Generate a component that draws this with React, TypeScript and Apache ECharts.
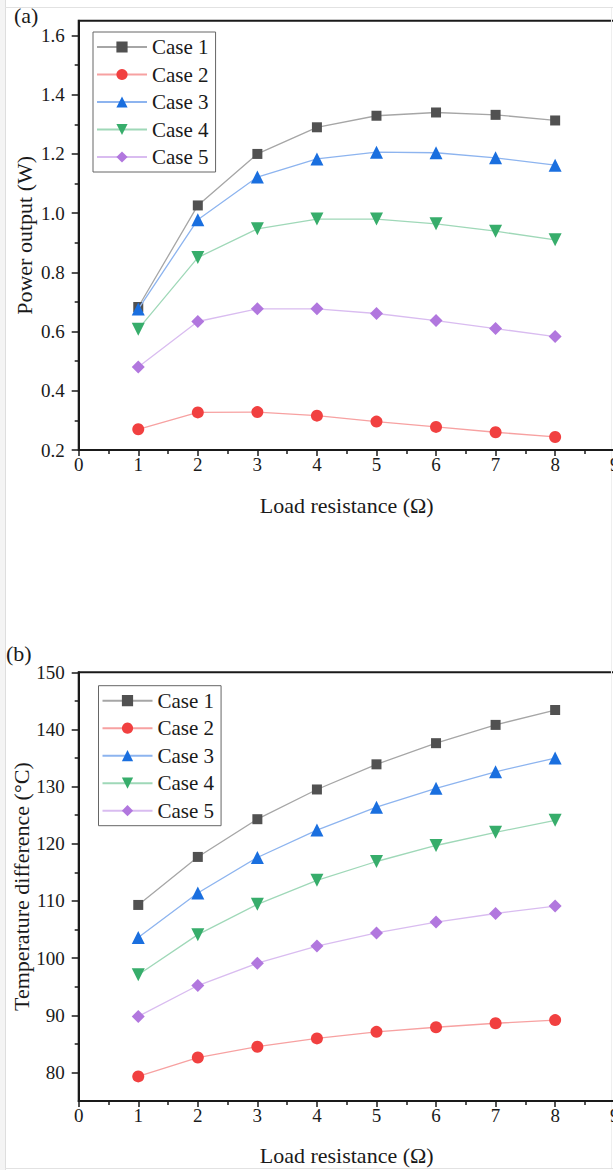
import React, { useEffect, useRef } from "react";
import * as echarts from "echarts";

// ---------- data ----------
const loadResistance = [1, 2, 3, 4, 5, 6, 7, 8];
const caseNames = ["Case 1", "Case 2", "Case 3", "Case 4", "Case 5"];

// (a) Power output (W)
const powerCase1 = [0.683, 1.026, 1.2, 1.29, 1.329, 1.34, 1.332, 1.313];
const powerCase2 = [0.27, 0.327, 0.328, 0.316, 0.296, 0.278, 0.26, 0.244];
const powerCase3 = [0.676, 0.978, 1.122, 1.183, 1.206, 1.204, 1.187, 1.162];
const powerCase4 = [0.608, 0.85, 0.947, 0.98, 0.98, 0.964, 0.939, 0.91];
const powerCase5 = [0.48, 0.634, 0.677, 0.677, 0.661, 0.637, 0.61, 0.583];

// (b) Temperature difference (°C)
const tempCase1 = [109.3, 117.7, 124.3, 129.5, 133.9, 137.6, 140.8, 143.4];
const tempCase2 = [79.3, 82.6, 84.5, 85.95, 87.1, 87.9, 88.6, 89.15];
const tempCase3 = [103.6, 111.4, 117.6, 122.4, 126.4, 129.7, 132.6, 135.0];
const tempCase4 = [97.1, 104.1, 109.4, 113.6, 116.9, 119.7, 122.0, 124.1];
const tempCase5 = [89.8, 95.2, 99.1, 102.1, 104.4, 106.3, 107.8, 109.1];

// ticks
const powerTicks = [0.2, 0.4, 0.6, 0.8, 1.0, 1.2, 1.4, 1.6];
const powerMinorTicks = [0.3, 0.5, 0.7, 0.9, 1.1, 1.3, 1.5];
const tempTicks = [80, 90, 100, 110, 120, 130, 140, 150];
const tempMinorTicks = [85, 95, 105, 115, 125, 135, 145];

// ---------- styles ----------
const FONT = "'Liberation Serif', 'Times New Roman', serif";
const INK = "#1a1a1a";
const markerColors = ["#515151", "#F14040", "#1A6FDF", "#37AD6B", "#B177DE"];
const lineColors = ["#a6a6a6", "#f7a1a1", "#8db4ef", "#9fd8b8", "#d9bcf0"];
const symbols = ["rect", "circle", "triangle", "triangle", "diamond"];
const rotates = [0, 0, 0, 180, 0];
const sizes = [10, 12, 13, 13, 13];

function makeSeries(sets: number[][], idx: number) {
  return sets.map((vals, i) => ({
    type: "line",
    name: caseNames[i],
    xAxisIndex: idx,
    yAxisIndex: idx * 2,
    data: loadResistance.map((x, k) => [x, vals[k]]),
    symbol: symbols[i],
    symbolSize: sizes[i],
    symbolRotate: rotates[i],
    itemStyle: { color: markerColors[i] },
    lineStyle: { color: lineColors[i], width: 1.3 },
    emphasis: { disabled: true },
    z: 3 + i,
  }));
}

function xAxis(gridIndex: number, nameGap: number) {
  return {
    type: "value",
    gridIndex,
    min: 0,
    max: 9,
    interval: 1,
    axisLine: { show: true, onZero: false, lineStyle: { color: INK, width: 2 } },
    axisTick: { show: true, inside: false, length: 6, lineStyle: { color: INK, width: 1.5 } },
    minorTick: { show: true, splitNumber: 2, length: 4, lineStyle: { color: INK, width: 1.5 } },
    axisLabel: { show: true, margin: 5, fontFamily: FONT, fontSize: 19, color: INK },
    splitLine: { show: false },
    minorSplitLine: { show: false },
    name: "Load resistance (Ω)",
    nameLocation: "middle",
    nameGap,
    nameMoveOverlap: false,
    nameTextStyle: { fontFamily: FONT, fontSize: 22, color: INK },
  };
}

function yAxes(
  gridIndex: number,
  min: number,
  max: number,
  ticks: number[],
  minor: number[],
  name: string,
  nameGap: number,
  fmt: (v: number) => string
) {
  return [
    {
      type: "value",
      gridIndex,
      position: "left",
      min,
      max,
      axisLine: { show: true, onZero: false, lineStyle: { color: INK, width: 2 } },
      axisTick: { show: true, inside: false, length: 7, customValues: ticks, lineStyle: { color: INK, width: 1.5 } },
      axisLabel: { show: true, customValues: ticks, formatter: fmt, margin: 14, fontFamily: FONT, fontSize: 19, color: INK },
      splitLine: { show: false },
      name,
      nameLocation: "middle",
      nameGap,
      nameMoveOverlap: false,
      nameTextStyle: { fontFamily: FONT, fontSize: 22, color: INK },
    },
    {
      type: "value",
      gridIndex,
      position: "left",
      offset: 0,
      min,
      max,
      axisLine: { show: false, onZero: false },
      axisTick: { show: true, inside: false, length: 4, customValues: minor, lineStyle: { color: INK, width: 1.5 } },
      axisLabel: { show: false },
      splitLine: { show: false },
    },
  ];
}

function legend(left: number, top: number) {
  return {
    orient: "vertical",
    left,
    top,
    itemWidth: 50,
    itemHeight: 14,
    itemGap: 6.5,
    padding: [4.5, 7, 4.5, 3],
    borderColor: "#666",
    borderWidth: 1,
    backgroundColor: "#fff",
    selectedMode: false,
    data: caseNames,
    textStyle: { fontFamily: FONT, fontSize: 21, color: INK },
  };
}

export default function App() {
  const ref = useRef<HTMLDivElement>(null);

  useEffect(() => {
    if (!ref.current) return;
    const chart = echarts.init(ref.current, null, { renderer: "svg" });

    const option: any = {
      animation: false,
      backgroundColor: "#ffffff",
      grid: [
        {
          left: 78.7,
          top: 20.7,
          width: 536,
          height: 429.3,
          show: true,
          borderColor: INK,
          borderWidth: 2,
          backgroundColor: "transparent",
          containLabel: false,
          outerBoundsMode: "none",
        },
        {
          left: 78.7,
          top: 672.3,
          width: 536,
          height: 428.7,
          show: true,
          borderColor: INK,
          borderWidth: 2,
          backgroundColor: "transparent",
          containLabel: false,
          outerBoundsMode: "none",
        },
      ],
      xAxis: [xAxis(0, 44), xAxis(1, 43)],
      yAxis: [
        ...yAxes(0, 0.2, 1.65, powerTicks, powerMinorTicks, "Power output (W)", 43, (v: number) => v.toFixed(1)),
        ...yAxes(1, 75, 150, tempTicks, tempMinorTicks, "Temperature difference (°C)", 46, (v: number) => String(v)),
      ],
      legend: [legend(93, 32), legend(98.5, 685.7)],
      series: [
        ...makeSeries([powerCase1, powerCase2, powerCase3, powerCase4, powerCase5], 0),
        ...makeSeries([tempCase1, tempCase2, tempCase3, tempCase4, tempCase5], 1),
      ],
      graphic: [
        { type: "rect", silent: true, shape: { x: 0, y: 0, width: 5, height: 1170 }, style: { fill: "#f4f4f4" } },
        { type: "line", silent: true, shape: { x1: 5.5, y1: 0, x2: 5.5, y2: 1170 }, style: { stroke: "#dedede", lineWidth: 1 } },
        { type: "line", silent: true, shape: { x1: 5, y1: 7.5, x2: 613, y2: 7.5 }, style: { stroke: "#e2e2e2", lineWidth: 1 } },
        { type: "line", silent: true, shape: { x1: 5, y1: 1168.5, x2: 613, y2: 1168.5 }, style: { stroke: "#e2e2e2", lineWidth: 1 } },
        { type: "line", silent: true, shape: { x1: 611.5, y1: 8, x2: 611.5, y2: 1168 }, style: { stroke: "#efefef", lineWidth: 1 } },
        { type: "text", silent: true, left: 14, top: 4, style: { text: "(a)", font: `22px ${FONT}`, fill: INK } },
        { type: "text", silent: true, left: 6, top: 642, style: { text: "(b)", font: `22px ${FONT}`, fill: INK } },
      ],
    };

    chart.setOption(option);
    return () => chart.dispose();
  }, []);

  return (
    <div
      ref={ref}
      style={{ position: "absolute", left: 0, top: 0, width: 613, height: 1170, background: "#fff" }}
    />
  );
}
